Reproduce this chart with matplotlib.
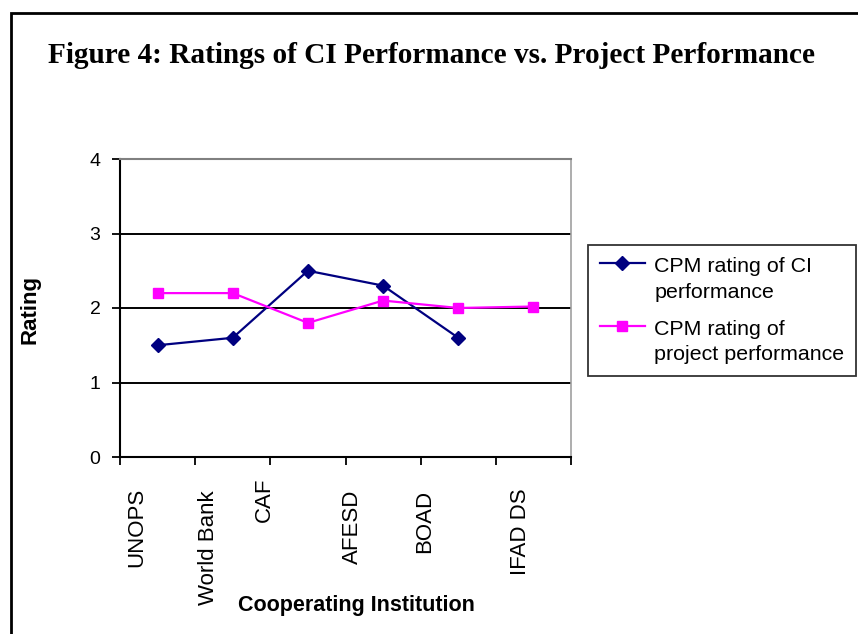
import matplotlib
matplotlib.use("Agg")
import matplotlib.pyplot as plt
from matplotlib.patches import Rectangle
from matplotlib.legend_handler import HandlerLine2D

# data
institutions = ["UNOPS", "World Bank", "CAF", "AFESD", "BOAD", "IFAD DS"]
ci_rating = [1.5, 1.6, 2.5, 2.3, 1.6, None]
project_rating = [2.2, 2.2, 1.8, 2.1, 2.0, 2.02]
y_ticks = [0, 1, 2, 3, 4]

# label nudges (pixels) to mimic the original Excel layout
label_dx = [-21, -24, -44, -31, -34, -13]
label_dy = [-31, -33, -21, -33, -33, -31]

W, H = 858, 634
fig = plt.figure(figsize=(W / 100, H / 100), dpi=100)
plt.rcParams['font.family'] = ['Liberation Sans', 'DejaVu Sans']


# legend handle sits on the first line of a two-line label, as in Excel
class FirstLineHandler(HandlerLine2D):
    def create_artists(self, legend, orig_handle, xdescent, ydescent, width, height,
                       fontsize, trans):
        artists = super().create_artists(legend, orig_handle, xdescent, ydescent, width,
                                         height, fontsize, trans)
        for a in artists:
            a.set_ydata([y + 0.76 * fontsize for y in a.get_ydata()])
        return artists


# frame round the figure (only left and top visible)
fig.patches.append(Rectangle((11 / W, -0.2), 1.5, 1.2 - 13 / H, transform=fig.transFigure,
                             fill=False, edgecolor="black", linewidth=2.0))

ax = fig.add_axes([120 / W, 1 - 457 / H, 451 / W, 298 / H])

xs = [i + 0.5 for i in range(len(institutions))]
ci_x = [x for x, v in zip(xs, ci_rating) if v is not None]
ci_y = [v for v in ci_rating if v is not None]

l1, = ax.plot(ci_x, ci_y, color="#000080", marker="D", markersize=7, linewidth=1.6,
              label="CPM rating of CI\nperformance")
l2, = ax.plot(xs, project_rating, color="#FF00FF", marker="s", markersize=7, linewidth=1.6,
              label="CPM rating of\nproject performance")

ax.set_xlim(0, len(institutions))
ax.set_ylim(0, 4)
ax.set_yticks(y_ticks)
ax.set_yticklabels([str(t) for t in y_ticks], fontsize=14)
ax.set_xticks(range(len(institutions) + 1))
ax.set_xticklabels([])
ax.tick_params(axis="both", direction="out", length=6, width=1.3, color="black")
ax.tick_params(axis="y", pad=8)

for y in y_ticks[1:4]:
    ax.axhline(y, color="black", linewidth=1.4, zorder=0)

ax.spines["left"].set_linewidth(1.5)
ax.spines["bottom"].set_linewidth(1.5)
ax.spines["top"].set_color("#808080")
ax.spines["top"].set_linewidth(1.5)
ax.spines["right"].set_color("#a0a0a0")
ax.spines["right"].set_linewidth(1.2)

for x, name, dx, dy in zip(xs, institutions, label_dx, label_dy):
    ax.annotate(name, xy=(x, 0), xycoords=("data", "axes fraction"),
                xytext=(dx, dy), textcoords="offset pixels",
                rotation=90, ha="center", va="top", fontsize=16)

fig.text(48 / W, 1 - 63 / H, "Figure 4: Ratings of CI Performance vs. Project Performance",
         family=["Liberation Serif", "DejaVu Serif"], fontweight="bold", fontsize=21.1,
         ha="left", va="baseline")
fig.text(30 / W, 1 - 309 / H, "Rating", rotation=90, fontsize=16, fontweight="bold",
         ha="center", va="center")
fig.text(356 / W, 1 - 605 / H, "Cooperating Institution", fontsize=15.5, fontweight="bold",
         ha="center", va="center")

leg = fig.legend(handles=[l1, l2], loc="upper left", bbox_to_anchor=(588 / W, 1 - 245 / H),
                 bbox_transform=fig.transFigure, fontsize=15.4, frameon=True, fancybox=False,
                 borderaxespad=0, handlelength=2.1, labelspacing=0.85, borderpad=0.55,
                 handletextpad=0.45,
                 handler_map={l1: FirstLineHandler(), l2: FirstLineHandler()})
for t in leg.get_texts():
    t.set_linespacing(1.45)
leg.get_frame().set_edgecolor("black")
leg.get_frame().set_linewidth(1.3)

fig.savefig("out.png", dpi=100)
